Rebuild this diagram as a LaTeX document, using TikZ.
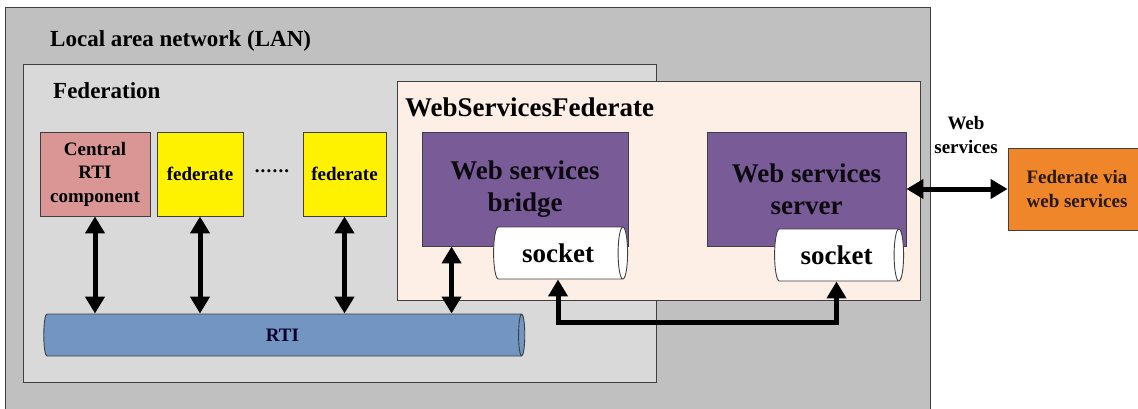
\documentclass[tikz,border=0pt]{standalone}
\usepackage{fontspec}
\setmainfont{Liberation Serif}
\usepackage{tikz}
\usetikzlibrary{shapes.geometric,arrows.meta}

\definecolor{langray}{HTML}{C0C0C0}
\definecolor{fedgray}{HTML}{D9D9D9}
\definecolor{wsfcream}{HTML}{FDEFE5}
\definecolor{rtipink}{HTML}{D99694}
\definecolor{wspurple}{HTML}{795B98}
\definecolor{rtiblue}{HTML}{7295C2}
\definecolor{viaorange}{HTML}{F0862A}
\definecolor{edgegray}{HTML}{3F3F3F}

\tikzset{
    area/.style={draw=edgegray,line width=0.9pt},
    areatitle/.style={anchor=west,inner sep=0pt,font=\bfseries\fontsize{23}{27}\selectfont},
    box/.style={draw=edgegray,line width=0.9pt,align=center,inner sep=0pt,
        font=\bfseries\fontsize{19}{23.5}\selectfont},
    bigbox/.style={box,font=\bfseries\fontsize{27}{32}\selectfont},
    pipe/.style={cylinder,draw=edgegray,line width=0.9pt,shape aspect=0.5,inner sep=0pt},
    dblarrow/.style={line width=5pt,{Triangle[length=17pt,width=19pt]}-{Triangle[length=17pt,width=19pt]}},
}

\begin{document}
\begin{tikzpicture}[x=1pt,y=-1pt]
            \useasboundingbox (0,0) rectangle (1138,408);
            \fill[white] (0,0) rectangle (1138,408);

            % areas
            \draw[area,fill=langray] (5,7) rectangle (930,420);
            \node[areatitle] (lantitle) at (50,41) {Local area network (LAN)};
            \draw[area,fill=fedgray] (23,64) rectangle (656,382);
            \node[areatitle] (fedtitle) at (53,91) {Federation};
            \draw[area,fill=wsfcream] (397,81) rectangle (920,300);
            \node[areatitle,font=\bfseries\fontsize{27}{32}\selectfont] (wsftitle) at (405,107) {WebServicesFederate};

            % federation members
            \node[box,fill=rtipink,minimum width=110,minimum height=84] (central) at (95,174) {Central\\RTI\\component};
            \node[box,fill=yellow,minimum width=86,minimum height=84] (fedA) at (200,174) {federate};
            \node[font=\bfseries\fontsize{19}{23}\selectfont] (dots) at (272,171) {.\kern1.2pt.\kern1.2pt.\kern1.2pt.\kern1.2pt.\kern1.2pt.};
            \node[box,fill=yellow,minimum width=83,minimum height=84] (fedB) at (344.5,174) {federate};
            \node[pipe,fill=rtiblue,minimum height=481,minimum width=42,font=\bfseries\fontsize{19}{23}\selectfont,text=black!85!blue] (rti) at (282.5,335) {RTI};

            % web services federate
            \node[bigbox,fill=wspurple,text=black!90!wspurple,minimum width=206,minimum height=114] (bridge) at (525,189) {Web services\\bridge};
            \node[pipe,fill=white,minimum height=134,minimum width=52,font=\bfseries\fontsize{27}{32}\selectfont] (sockA) at (558,253) {socket};
            \node[bigbox,fill=wspurple,text=black!90!wspurple,minimum width=199,minimum height=114] (server) at (806.5,189) {Web services\\server};
            \node[pipe,fill=white,minimum height=129,minimum width=52,font=\bfseries\fontsize{27}{32}\selectfont] (sockB) at (836.5,255) {socket};

            % outside
            \node[box,fill=viaorange,text=black!80!brown,minimum width=138,minimum height=82] (via) at (1077,189) {Federate via\\web services};
            \node[align=center,inner sep=0pt,font=\bfseries\fontsize{19}{24}\selectfont] (wslabel) at (966,135) {Web\\services};

            % connectors
            \draw[dblarrow] (central.south) -- (central.south |- rti.north);
            \draw[dblarrow] (fedA.south) -- (fedA.south |- rti.north);
            \draw[dblarrow] (fedB.south) -- (fedB.south |- rti.north);
            \draw[dblarrow] ([xshift=30]bridge.south west) -- ([xshift=30]bridge.south west |- rti.north);
            \coordinate (link) at (700,322);
            \draw[dblarrow] (sockA.south) |- (link) -| (sockB.south);
            \draw[dblarrow] (server.east) -- (via.west);
\end{tikzpicture}
\end{document}
